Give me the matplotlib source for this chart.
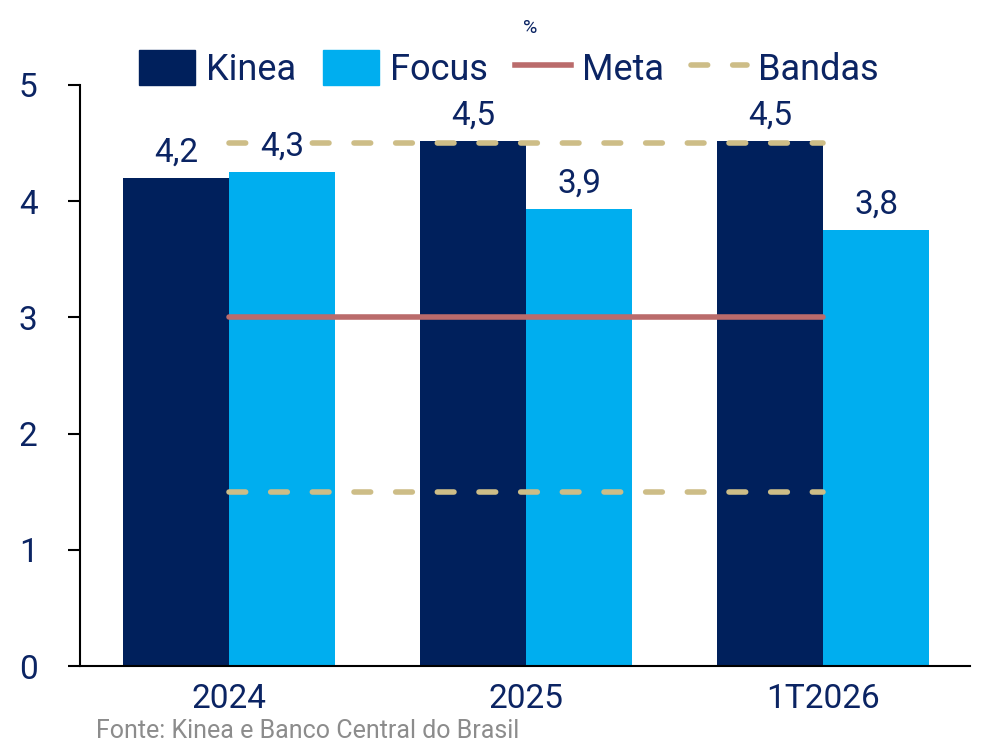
import matplotlib
matplotlib.use('Agg')
import matplotlib.pyplot as plt
import numpy as np
from matplotlib.patches import Patch
from matplotlib.lines import Line2D

plt.rcParams['font.family'] = ['Roboto', 'DejaVu Sans']

# Data
groups = ['2024', '2025', '1T2026']
kinea = [4.2, 4.52, 4.52]
focus = [4.25, 3.93, 3.75]
kinea_labels = ['4,2', '4,5', '4,5']
focus_labels = ['4,3', '3,9', '3,8']
meta = 3.0
banda_sup = 4.5
banda_inf = 1.5

navy = '#00205C'
cyan = '#00AEEF'
meta_col = '#BA6B6B'
banda_col = '#CDBD87'
text_col = '#0B2463'

fig = plt.figure(figsize=(9.84, 7.44), dpi=100)
ax = fig.add_axes([0.0813, 0.1048, 0.9047, 0.781])

x = np.arange(len(groups))
w = 0.357
b1 = ax.bar(x - w / 2, kinea, width=w, color=navy, zorder=2)
b2 = ax.bar(x + w / 2, focus, width=w, color=cyan, zorder=2)

# meta e bandas, do centro do primeiro ao ultimo grupo
ax.plot([x[0], x[-1]], [meta, meta], color=meta_col, lw=4,
        solid_capstyle='round', zorder=3)
for yb in [banda_sup, banda_inf]:
    ax.plot([x[0], x[-1]], [yb, yb], color=banda_col, lw=4,
            linestyle=(0, (3.0, 4.5)), dash_capstyle='round', zorder=3)

for bars, labs in [(b1, kinea_labels), (b2, focus_labels)]:
    for bar, lab in zip(bars, labs):
        ax.text(bar.get_x() + bar.get_width() / 2, bar.get_height() + 0.08, lab,
                ha='center', va='bottom', fontsize=24, color=text_col, zorder=4,
                bbox=dict(facecolor='white', edgecolor='none', pad=1))

ax.set_xlim(-0.502, 2.495)
ax.set_ylim(0, 5)
ax.set_yticks([0, 1, 2, 3, 4, 5])
ax.set_xticks(x)
ax.set_xticklabels(groups)
ax.tick_params(axis='y', length=8.6, width=1.5, labelsize=24, labelcolor=text_col, pad=22)
ax.tick_params(axis='x', length=0, labelsize=24, labelcolor=text_col, pad=12)
for s in ['top', 'right']:
    ax.spines[s].set_visible(False)
for s in ['left', 'bottom']:
    ax.spines[s].set_linewidth(1.5)

handles = [Patch(color=navy), Patch(color=cyan),
           Line2D([], [], color=meta_col, lw=4),
           Line2D([], [], color=banda_col, lw=4, linestyle=(0, (3.0, 4.5)), dash_capstyle='round')]
fig.legend(handles, ['Kinea', 'Focus', 'Meta', 'Bandas'], loc='center',
           bbox_to_anchor=(0.517, 0.907), ncol=4, frameon=False, fontsize=26,
           labelcolor=text_col, handlelength=1.55, handleheight=1.1,
           handletextpad=0.3, columnspacing=0.75)

fig.text(0.539, 0.962, '%', ha='center', va='center', fontsize=14, color=text_col)
fig.text(0.0976, 0.008, 'Fonte: Kinea e Banco Central do Brasil', ha='left',
         va='baseline', fontsize=18, color='#8C8C8C')

fig.savefig('out.png', dpi=100)
